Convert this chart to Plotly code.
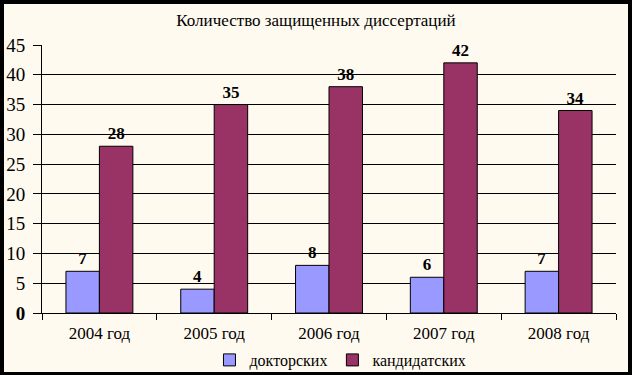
import plotly.graph_objects as go

categories = ["2004 год", "2005 год", "2006 год", "2007 год", "2008 год"]
doktorskih = [7, 4, 8, 6, 7]
kandidatskih = [28, 35, 38, 42, 34]
y_ticks = [0, 5, 10, 15, 20, 25, 30, 35, 40, 45]
y_ticktext = ["<b>0</b>"] + [str(v) for v in y_ticks[1:]]

W, H = 632, 375
L, R, T, B = 42, 16, 45, 62
pw, ph = W - L - R, H - T - B

def px_x(p):
    return (p - L) / pw

def px_y(p):
    return (H - B - p) / ph

FONT = "Liberation Serif, Times New Roman, serif"
CREAM = "#FFFAEF"

fig = go.Figure()
fig.add_trace(go.Bar(
    x=categories, y=doktorskih, name="докторских",
    marker=dict(color="#9999FF", line=dict(color="black", width=1)),
    texttemplate="<b>%{y}</b>", textposition="outside",
    textfont=dict(family=FONT, size=17, color="black"), cliponaxis=False,
))
fig.add_trace(go.Bar(
    x=categories, y=kandidatskih, name="кандидатских",
    marker=dict(color="#993366", line=dict(color="black", width=1)),
    texttemplate="<b>%{y}</b>", textposition="outside",
    textfont=dict(family=FONT, size=17, color="black"), cliponaxis=False,
))

fig.update_layout(
    width=W, height=H,
    margin=dict(l=L, r=R, t=T, b=B, autoexpand=False),
    paper_bgcolor="black",
    plot_bgcolor=CREAM,
    barmode="group", bargap=0.417, bargroupgap=0,
    font=dict(family=FONT, color="black"),
    title=dict(text="Количество защищенных диссертаций", x=0.5, xanchor="center",
               xref="container", y=1 - 20 / H, yref="container", yanchor="middle",
               font=dict(family=FONT, size=17, color="black")),
    showlegend=True,
    legend=dict(orientation="h", x=0.52, xanchor="center", y=px_y(360), yanchor="middle",
                font=dict(family=FONT, size=16, color="black"), bgcolor="rgba(0,0,0,0)",
                itemwidth=30, traceorder="normal"),
    shapes=[dict(type="rect", xref="paper", yref="paper", layer="below",
                 x0=px_x(4), x1=px_x(628), y0=px_y(372), y1=px_y(4),
                 fillcolor=CREAM, line=dict(width=0))],
    xaxis=dict(showline=True, linecolor="black", linewidth=1, ticks="outside",
               tickson="boundaries", ticklen=6, tickcolor="black",
               ticklabelstandoff=5,
               tickfont=dict(family=FONT, size=17, color="black"), showgrid=False),
    yaxis=dict(range=[0, 45], tickvals=y_ticks, ticktext=y_ticktext, showline=True,
               linecolor="black", linewidth=1, ticks="outside", ticklen=8,
               tickcolor="black", showgrid=True, gridcolor="black", gridwidth=1,
               zeroline=False, ticklabelstandoff=4,
               tickfont=dict(family=FONT, size=19, color="black")),
)

fig.write_html("out.html", config={"displayModeBar": False},
               post_script="document.body.style.margin='0';document.body.style.overflow='hidden';")
